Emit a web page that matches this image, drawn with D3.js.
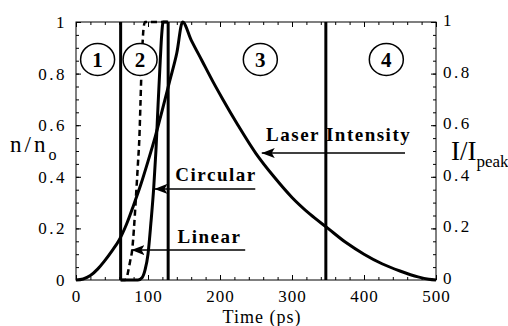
<!DOCTYPE html>
<html>
<head>
<meta charset="utf-8">
<script src="https://cdn.jsdelivr.net/npm/d3@7"></script>
<style>
  body { margin: 0; background: #fff; }
  svg text { font-family: "Liberation Serif", "Times New Roman", serif; fill: #000; }
</style>
</head>
<body>
<div id="chart"></div>
<script>
// ---- data ----
const xTicks = [0, 100, 200, 300, 400, 500];
const yTicks = [0, 0.2, 0.4, 0.6, 0.8, 1];

// laser pulse, normalised intensity I/Ipeak vs time (ps)
const laserT = [0, 10, 20, 30, 40, 50, 60, 70, 80, 90, 100, 110, 120, 130, 140, 148,
                160, 175, 190, 204, 225, 250, 275, 300, 325, 350, 375, 400, 425, 450, 475, 490, 500];
const laserI = [0, 0.004, 0.017, 0.042, 0.075, 0.113, 0.155, 0.215, 0.29, 0.37, 0.46, 0.555, 0.66, 0.77, 0.88, 1.0,
                0.93, 0.85, 0.77, 0.7, 0.6, 0.49, 0.4, 0.32, 0.255, 0.2, 0.145, 0.1, 0.063, 0.035, 0.012, 0.003, 0];

// density n/no, linear polarisation (dashed)
const linearT = [62, 68, 70, 72, 75, 78, 80.5, 83, 86, 88, 89.5, 91, 92.5, 94, 96, 128];
const linearN = [0, 0, 0.005, 0.027, 0.07, 0.116, 0.2, 0.31, 0.45, 0.55, 0.68, 0.82, 0.92, 0.98, 1, 1];

// density n/no, circular polarisation
const circularT = [62, 86, 92, 96, 100, 104, 108, 111, 114, 117, 119, 121, 128];
const circularN = [0, 0, 0.01, 0.04, 0.1, 0.22, 0.36, 0.5, 0.68, 0.85, 0.95, 1, 1];

// region boundaries (ps) and region labels
const boundaries = [62, 128, 347];
const regionNames = ["1", "2", "3", "4"];
const regionT = [30, 89, 256, 431];

// ---- layout ----
const W = 508, H = 326;
const margin = { top: 22, right: 72, bottom: 46, left: 76 };
const width = W - margin.left - margin.right;   // 360
const height = H - margin.top - margin.bottom;  // 258

const x = d3.scaleLinear().domain([0, 500]).range([0, width]);
const y = d3.scaleLinear().domain([0, 1]).range([height, 0]);

const svg = d3.select("#chart").append("svg")
    .attr("width", W).attr("height", H);

const defs = svg.append("defs");
defs.append("marker")
    .attr("id", "head")
    .attr("viewBox", "0 0 13 10")
    .attr("refX", 13).attr("refY", 5)
    .attr("markerWidth", 13).attr("markerHeight", 10)
    .attr("markerUnits", "userSpaceOnUse")
    .attr("orient", "auto")
  .append("path")
    .attr("d", "M0,0 L13,5 L0,10 L3,5 Z")
    .attr("fill", "#000");

const g = svg.append("g").attr("transform", `translate(${margin.left},${margin.top})`);

// ---- axes (ticks inside the frame) ----
const fmt = d => (d === 0 || d === 1) ? d : d.toFixed(1);
const minorX = d3.range(0, 501, 20);
const minorY = d3.range(0, 1.0001, 0.05);

function styleAxis(sel) {
  sel.select(".domain").remove();
  sel.selectAll("line").attr("stroke", "#000").attr("stroke-width", 1);
}

g.append("g").attr("transform", `translate(0,${height})`)
  .call(d3.axisBottom(x).tickValues(minorX).tickSize(-3).tickFormat(""))
  .call(styleAxis);
g.append("g").attr("transform", `translate(0,${height})`)
  .call(d3.axisBottom(x).tickValues(xTicks).tickSize(-5).tickPadding(10))
  .call(styleAxis)
  .selectAll("text").attr("font-size", 17).style("letter-spacing", "1px");

g.append("g")
  .call(d3.axisTop(x).tickValues(minorX).tickSize(-3).tickFormat(""))
  .call(styleAxis);
g.append("g")
  .call(d3.axisTop(x).tickValues(xTicks).tickSize(-5).tickFormat(""))
  .call(styleAxis);

g.append("g")
  .call(d3.axisLeft(y).tickValues(minorY).tickSize(-3).tickFormat(""))
  .call(styleAxis);
g.append("g")
  .call(d3.axisLeft(y).tickValues(yTicks).tickSize(-5).tickPadding(9).tickFormat(fmt))
  .call(styleAxis)
  .selectAll("text").attr("font-size", 17).style("letter-spacing", "2.5px");

g.append("g").attr("transform", `translate(${width},0)`)
  .call(d3.axisRight(y).tickValues(minorY).tickSize(-3).tickFormat(""))
  .call(styleAxis);
g.append("g").attr("transform", `translate(${width},0)`)
  .call(d3.axisRight(y).tickValues(yTicks).tickSize(-5).tickPadding(7).tickFormat(fmt))
  .call(styleAxis)
  .selectAll("text").attr("font-size", 17).attr("dy", "0.2em").style("letter-spacing", "2.5px");

g.append("rect")
  .attr("width", width).attr("height", height)
  .attr("fill", "none").attr("stroke", "#000").attr("stroke-width", 1);

// ---- region boundaries ----
g.selectAll(".bound")
  .data(boundaries)
  .enter().append("line")
    .attr("class", "bound")
    .attr("x1", d => x(d)).attr("x2", d => x(d))
    .attr("y1", y(1)).attr("y2", y(0))
    .attr("stroke", "#000").attr("stroke-width", 3);

// ---- curves ----
const line = d3.line().x(d => x(d[0])).y(d => y(d[1])).curve(d3.curveMonotoneX);

g.append("path")
  .datum(d3.zip(laserT, laserI))
  .attr("d", line)
  .attr("fill", "none").attr("stroke", "#000").attr("stroke-width", 3);

g.append("path")
  .datum(d3.zip(circularT, circularN))
  .attr("d", line)
  .attr("fill", "none").attr("stroke", "#000").attr("stroke-width", 3);

g.append("path")
  .datum(d3.zip(linearT, linearN))
  .attr("d", line)
  .attr("fill", "none").attr("stroke", "#000").attr("stroke-width", 2.5)
  .attr("stroke-dasharray", "6,4");

// ---- region labels ----
const regions = g.selectAll(".region")
  .data(d3.zip(regionT, regionNames))
  .enter().append("g")
    .attr("transform", d => `translate(${x(d[0])},${y(0.855)})`);
regions.append("ellipse")
  .attr("rx", 17).attr("ry", 16)
  .attr("fill", "#fff").attr("stroke", "#000").attr("stroke-width", 1.5);
regions.append("text")
  .attr("text-anchor", "middle").attr("dy", "0.35em")
  .attr("font-size", 21).attr("font-weight", "bold")
  .text(d => d[1]);

// ---- annotations with arrows ----
const notes = [
  { text: "Laser Intensity", tx: 264, ty: 0.54, from: 457, to: 258, ay: 0.492 },
  { text: "Circular", tx: 138, ty: 0.385, from: 249, to: 109, ay: 0.353 },
  { text: "Linear", tx: 141, ty: 0.145, from: 235, to: 77, ay: 0.116 }
];
notes.forEach(n => {
  g.append("line")
    .attr("x1", x(n.from)).attr("x2", x(n.to))
    .attr("y1", y(n.ay)).attr("y2", y(n.ay))
    .attr("stroke", "#000").attr("stroke-width", 1.5)
    .attr("marker-end", "url(#head)");
  g.append("text")
    .attr("x", x(n.tx)).attr("y", y(n.ty))
    .attr("font-size", 19).attr("font-weight", "bold")
    .style("letter-spacing", "1.5px")
    .text(n.text);
});

// ---- axis titles ----
const nl = svg.append("text").attr("x", 10).attr("y", 152).attr("font-size", 23);
nl.append("tspan").style("letter-spacing", "3px").text("n/n");
nl.append("tspan").attr("dy", 8).attr("font-size", 16).text("o");

const il = svg.append("text").attr("x", 451).attr("y", 160).attr("font-size", 27);
il.append("tspan").text("I/I");
il.append("tspan").attr("dy", 7).attr("font-size", 17).text("peak");

svg.append("text")
  .attr("x", 262).attr("y", 323)
  .attr("text-anchor", "middle").attr("font-size", 18)
  .style("letter-spacing", "1px")
  .text("Time (ps)");
</script>
</body>
</html>
